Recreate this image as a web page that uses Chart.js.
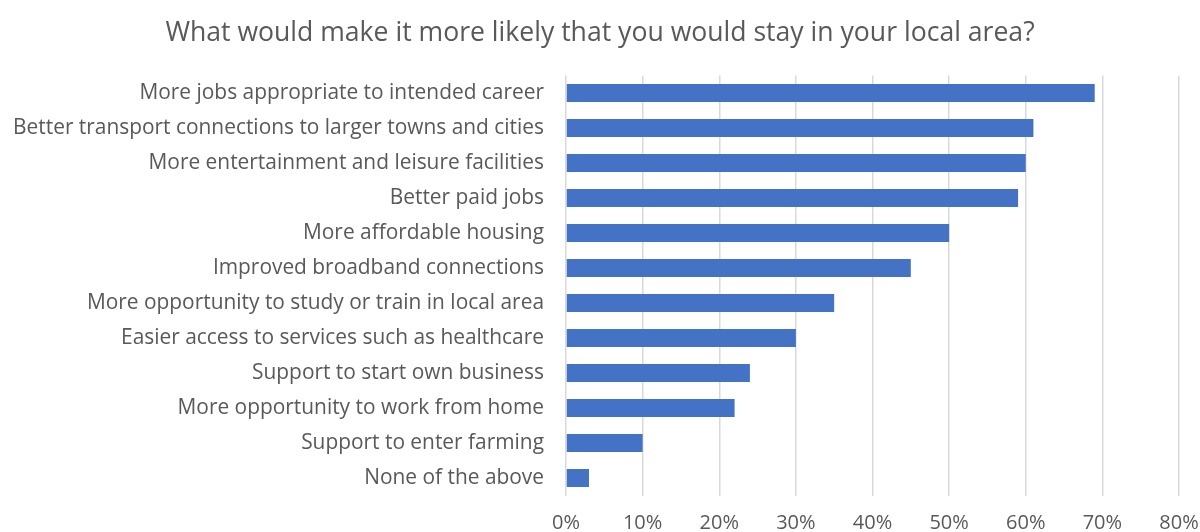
<!DOCTYPE html>
<html lang="en">
<head>
<meta charset="utf-8">
<script src="https://cdn.jsdelivr.net/npm/chart.js@4.4.1/dist/chart.umd.min.js"></script>
<style>
  html, body { margin: 0; padding: 0; background: #fff; }
  .chart_box { width: 1200px; height: 532px; position: relative; }
</style>
</head>
<body>
<div class="chart_box"><canvas id="barChart"></canvas></div>
<script>
// categories, top to bottom
var categories = [
  "More jobs appropriate to intended career",
  "Better transport connections to larger towns and cities",
  "More entertainment and leisure facilities",
  "Better paid jobs",
  "More affordable housing",
  "Improved broadband connections",
  "More opportunity to study or train in local area",
  "Easier access to services such as healthcare",
  "Support to start own business",
  "More opportunity to work from home",
  "Support to enter farming",
  "None of the above"
];
// percent of respondents
var percentValues = [69, 61, 60, 59, 50, 45, 35, 30, 24, 22, 10, 3];
var tickMax = 80;
var tickStep = 10;

var textGrey = "#595959";
var fontName = "'Open Sans', Lato, sans-serif";

var ctx = document.getElementById("barChart").getContext("2d");
var myChart = new Chart(ctx, {
  type: "bar",
  data: {
    labels: categories,
    datasets: [{
      data: percentValues,
      backgroundColor: "#4472C4",
      borderWidth: 0,
      categoryPercentage: 1,
      barPercentage: 0.52
    }]
  },
  options: {
    indexAxis: "y",
    responsive: true,
    maintainAspectRatio: false,
    animation: false,
    layout: { padding: 0 },
    plugins: {
      legend: { display: false },
      tooltip: { enabled: false },
      title: {
        display: true,
        text: "What would make it more likely that you would stay in your local area?",
        color: textGrey,
        font: { family: fontName, size: 26.6, weight: "normal" },
        padding: { top: 17, bottom: 26.6 }
      }
    },
    scales: {
      x: {
        min: 0,
        max: tickMax,
        ticks: {
          stepSize: tickStep,
          color: textGrey,
          padding: 16,
          font: { family: fontName, size: 20 },
          callback: function (v) { return v + "%"; }
        },
        grid: { color: "#D9D9D9", lineWidth: 1.5, drawTicks: false },
        border: { display: false },
        afterFit: function (scale) {
          scale.height = 36.5;
          scale.paddingRight = 21;
        }
      },
      y: {
        ticks: {
          color: textGrey,
          padding: 22,
          font: { family: fontName, size: 20.9 },
          autoSkip: false
        },
        grid: { display: false, drawTicks: false },
        border: { display: false },
        afterFit: function (scale) { scale.width = 566; }
      }
    }
  }
});
</script>
</body>
</html>
